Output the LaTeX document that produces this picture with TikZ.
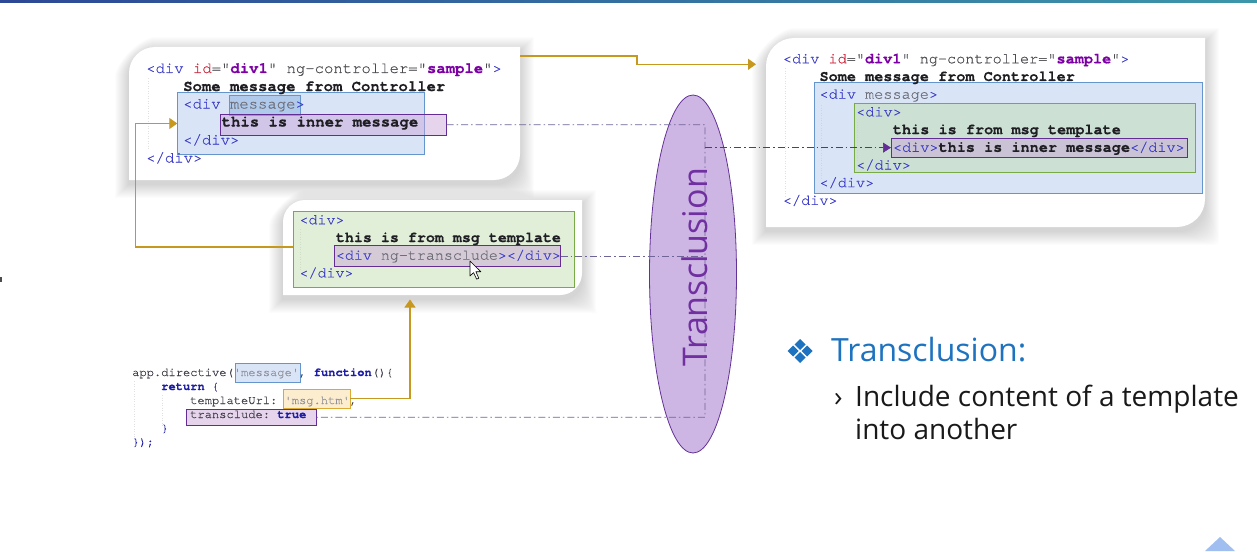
\documentclass[tikz,border=0pt]{standalone}
\usepackage{fontspec}
\setmainfont{Open Sans}
\setmonofont[FakeBold=0.35]{TeX Gyre Cursor}
\usetikzlibrary{shapes.geometric,arrows.meta}

\definecolor{tagc}{RGB}{60,60,200}
\definecolor{idred}{RGB}{205,40,60}
\definecolor{attr}{RGB}{75,75,80}
\definecolor{strp}{RGB}{125,0,165}
\definecolor{dark}{RGB}{30,30,35}
\definecolor{grayt}{RGB}{110,110,120}
\definecolor{jsdark}{RGB}{60,60,70}
\definecolor{jslight}{RGB}{145,145,155}
\definecolor{kw}{RGB}{30,30,165}
\definecolor{boxblueF}{RGB}{180,205,240}
\definecolor{boxblueD}{RGB}{100,150,205}
\definecolor{boxblueH}{RGB}{150,185,230}
\definecolor{boxpurF}{RGB}{200,160,215}
\definecolor{boxpurD}{RGB}{100,45,150}
\definecolor{boxgrnF}{RGB}{190,220,170}
\definecolor{boxgrnD}{RGB}{120,170,70}
\definecolor{boxorF}{RGB}{250,220,160}
\definecolor{boxorD}{RGB}{220,170,50}
\definecolor{orangeline}{RGB}{198,152,32}
\definecolor{ddline}{RGB}{110,100,150}
\definecolor{ellF}{RGB}{206,182,228}
\definecolor{ellD}{RGB}{100,50,150}
\definecolor{elltext}{RGB}{112,48,160}
\definecolor{titleblue}{RGB}{30,115,192}
\definecolor{bodytext}{RGB}{25,25,25}
\definecolor{bandL}{RGB}{45,72,150}
\definecolor{bandR}{RGB}{60,150,170}
\definecolor{cornerblue}{RGB}{160,190,240}

% card outline: rounded top-left and bottom-right corners
\newcommand\cardfill[6]{%
  \fill[#6] ({#1},{#2+#5}) .. controls ({#1},{#2+0.45*#5}) and ({#1+0.45*#5},{#2}) .. ({#1+#5},{#2})
    -- ({#3},{#2}) -- ({#3},{#4-#5})
    .. controls ({#3},{#4-0.45*#5}) and ({#3-0.45*#5},{#4}) .. ({#3-#5},{#4})
    -- ({#1},{#4}) -- cycle;}
% soft shadow made of stacked translucent outlines, then the white card
\newcommand\card[5]{%
  \foreach \s in {1,...,14}{\cardfill{#1-\s}{#2-\s+4}{#3+\s}{#4+\s+4}{#5+\s}{black,opacity=0.011}}%
  \cardfill{#1}{#2}{#3}{#4}{#5}{white}}
\newcommand\tg[1]{\textcolor{tagc}{#1}}
\newcommand\sq{\char"27\relax}

\begin{document}
\begin{tikzpicture}[x=1pt,y=-1pt,
  cA/.style={anchor=base west,inner sep=0pt,font=\ttfamily\fontsize{15.6}{18}\selectfont},
  cB/.style={anchor=base west,inner sep=0pt,font=\ttfamily\fontsize{15.2}{18}\selectfont},
  cC/.style={anchor=base west,inner sep=0pt,font=\ttfamily\fontsize{15}{18}\selectfont},
  cD/.style={anchor=base west,inner sep=0pt,font=\ttfamily\fontsize{12.1}{14}\selectfont},
  hl/.style={anchor=north west,inner sep=0pt,outer sep=0pt,line width=0.8pt,fill opacity=0.5},
  bluebox/.style={hl,draw=boxblueD,fill=boxblueF},
  bluehl/.style={hl,draw=boxblueD,fill=boxblueH,fill opacity=0.6},
  purbox/.style={hl,draw=boxpurD,fill=boxpurF,fill opacity=0.45},
  grnbox/.style={hl,draw=boxgrnD,fill=boxgrnF,fill opacity=0.45},
  orbox/.style={hl,draw=boxorD,fill=boxorF},
  oarr/.style={draw=orangeline,line width=1.2pt,-{Triangle[length=8pt,width=11pt]},color=orangeline},
  ddash/.style={draw=ddline,line width=0.7pt,dash pattern=on 7pt off 3pt on 1.5pt off 3pt},
  guide/.style={draw=black!12,line width=0.5pt,dotted},
  ui/.style={anchor=base west,inner sep=0pt}]

\useasboundingbox (0,0) rectangle (1257,551);
\fill[white] (0,0) rectangle (1257,551);

% top band
\shade[left color=bandL,right color=bandR] (0,0) rectangle (1257,2.5);
% small marks at the edges
\fill[black!70] (0,276.5) rectangle (1.5,282);
\fill[cornerblue] (1205,551) -- (1220,537) -- (1235,551) -- cycle;

% cards
\card{129}{47}{520}{180}{26}
\card{766}{38}{1205}{227}{28}
\card{283}{200}{582}{295}{22}

% indentation guides
\draw[guide] (148,78) -- (148,150);
\draw[guide] (785,68) -- (785,198);
\draw[guide] (821,105) -- (821,180);
\draw[guide] (857,122) -- (857,160);
\draw[guide] (300,229) -- (300,270);
\draw[guide] (134,381) -- (134,440);
\draw[guide] (162,395) -- (162,426);

% highlight boxes, card 1
\node[bluebox,minimum width=247.4pt,minimum height=62.4pt] (msgbox) at (177.3,92.3) {};
\node[bluehl,minimum width=71.4pt,minimum height=19.7pt] (msgattr) at (229.3,95.3) {};
\node[purbox,minimum width=226.7pt,minimum height=21.3pt] (inner1) at (220,114) {};
% highlight boxes, card 2
\node[bluebox,minimum width=388.4pt,minimum height=110.6pt] (msgbox2) at (814.3,82.7) {};
\node[grnbox,minimum width=340.7pt,minimum height=69.4pt] (tmpl2) at (854.3,103.3) {};
\node[purbox,minimum width=296.7pt,minimum height=18.7pt] (inner2) at (891,138.3) {};
% highlight boxes, card 3
\node[grnbox,minimum width=280.7pt,minimum height=75.6pt] (tmpl3) at (293.3,211.7) {};
\node[purbox,minimum width=226.4pt,minimum height=20.3pt] (ngtr) at (334.3,245.7) {};
% highlight boxes, directive code
\node[bluebox,minimum width=64.7pt,minimum height=18.7pt] (dirname) at (235.3,363.3) {};
\node[orbox,minimum width=66.7pt,minimum height=19pt] (url) at (283.3,389.3) {};
\node[purbox,minimum width=130.4pt,minimum height=16.3pt] (tcl) at (186.3,409) {};

% card 1 text
\node[cA] (a1) at (146,73) {\tg{<div }\textcolor{idred}{id}\textcolor{attr}{="}\textcolor{strp}{\bfseries div1}\textcolor{attr}{" ng-controller="}\textcolor{strp}{\bfseries sample}\textcolor{attr}{"}\tg{>}};
\node[cA] (a2) at (183,91) {\textcolor{dark}{\bfseries Some message from Controller}};
\node[cA] (a3) at (183,108.5) {\tg{<div }\textcolor{grayt}{message}\tg{>}};
\node[cA] (a4) at (221.5,126.5) {\textcolor{dark}{\bfseries this is inner message}};
\node[cA] (a5) at (183,144.5) {\tg{</div>}};
\node[cA] (a6) at (146,162.5) {\tg{</div>}};

% card 2 text
\node[cB] (b1) at (782.7,63.3) {\tg{<div }\textcolor{idred}{id}\textcolor{attr}{="}\textcolor{strp}{\bfseries div1}\textcolor{attr}{" ng-controller="}\textcolor{strp}{\bfseries sample}\textcolor{attr}{"}\tg{>}};
\node[cB] (b2) at (819.3,81) {\textcolor{dark}{\bfseries Some message from Controller}};
\node[cB] (b3) at (819.3,98.7) {\tg{<div }\textcolor{grayt}{message}\tg{>}};
\node[cB] (b4) at (856,116.4) {\tg{<div>}};
\node[cB] (b5) at (892.7,134.1) {\textcolor{dark}{\bfseries this is from msg template}};
\node[cB] (b6) at (892.7,151.8) {\tg{<div>}\textcolor{dark}{\bfseries this is inner message}\tg{</div>}};
\node[cB] (b7) at (856,169.5) {\tg{</div>}};
\node[cB] (b8) at (819.3,187.2) {\tg{</div>}};
\node[cB] (b9) at (782.7,204.9) {\tg{</div>}};

% card 3 text
\node[cC] (t1) at (299.3,224.3) {\tg{<div>}};
\node[cC] (t2) at (335.7,242) {\textcolor{dark}{\bfseries this is from msg template}};
\node[cC] (t3) at (335.7,259.7) {\tg{<div }\textcolor{grayt}{ng-transclude}\tg{></div>}};
\node[cC] (t4) at (299.3,277.4) {\tg{</div>}};

% directive code
\node[cD] (d1) at (132,376) {\textcolor{jsdark}{app.directive(}\textcolor{jslight}{\sq message\sq}\textcolor{jsdark}{, }\textcolor{kw}{\bfseries function}\textcolor{jsdark}{()\{}};
\node[cD] (d2) at (161,390) {\textcolor{kw}{\bfseries return} \textcolor{kw}{\{}};
\node[cD] (d3) at (190,404) {\textcolor{jsdark}{templateUrl: }\textcolor{jslight}{\sq msg.htm\sq}\textcolor{jsdark}{,}};
\node[cD] (d4) at (190,418) {\textcolor{jsdark}{transclude: }\textcolor{kw}{\bfseries true}};
\node[cD] (d5) at (161,431.8) {\textcolor{kw}{\}}};
\node[cD] (d6) at (132,445.6) {\textcolor{kw}{\});}};

% mouse pointer
\filldraw[fill=white,draw=black,line width=0.6pt,line join=round]
  (470,261) -- (470,276) -- (473.6,272.6) -- (476.6,279.2) -- (478.8,278.2) -- (475.9,271.7) -- (480.8,271.7) -- cycle;

% orange connectors
\coordinate (o1s) at (520,56);
\coordinate (o1m) at (637,60);
\coordinate (o1e) at (756,64.3);
\draw[oarr] (o1s) -- (o1s -| o1m) -- (o1m |- o1e) -- (o1e);
\coordinate (o2s) at (293,247);
\coordinate (o2k) at (135.7,247);
\draw[oarr] (o2s) -- (o2k) |- (msgbox.west);
\coordinate (o3e) at (410,299.5);
\draw[oarr] (url.east) -| (o3e);

% transclusion oval
\node[ellipse,draw=ellD,fill=ellF,line width=0.8pt,minimum width=87pt,minimum height=358pt,inner sep=0pt] (oval) at (693,274) {};

% dash-dot connectors
\coordinate (jt) at (705,124.7);
\draw[ddash] (inner1.east) -- (jt) -- (jt |- tcl.east) -- (tcl.east);
\draw[ddash] (ngtr.east) -- (ngtr.east -| jt);
\draw[ddash,-{Triangle[length=8pt,width=10pt]},color=boxpurD] (jt |- inner2.west) -- (inner2.west);

\node[ui,rotate=90,text=elltext,font=\fontsize{34}{40}\selectfont] (ovallbl) at (707,366.5) {Transclusion};

% bullet list
\foreach \cx/\cy in {793/351,807/351,800/344.5,800/357.5}
  \fill[titleblue] (\cx,\cy-5.5) -- (\cx+5.5,\cy) -- (\cx,\cy+5.5) -- (\cx-5.5,\cy) -- cycle;
\node[ui,text=titleblue,font=\fontsize{32}{38}\selectfont] (ttl) at (831,361.7) {Transclusion:};
\node[ui,text=bodytext,font=\fontsize{28}{34}\selectfont] (chev) at (834,406) {›};
\node[ui,text=bodytext,font=\fontsize{28}{34}\selectfont] (sub1) at (855,406) {Include content of a template};
\node[ui,text=bodytext,font=\fontsize{28}{34}\selectfont] (sub2) at (855,439.5) {into another};
\end{tikzpicture}
\end{document}
